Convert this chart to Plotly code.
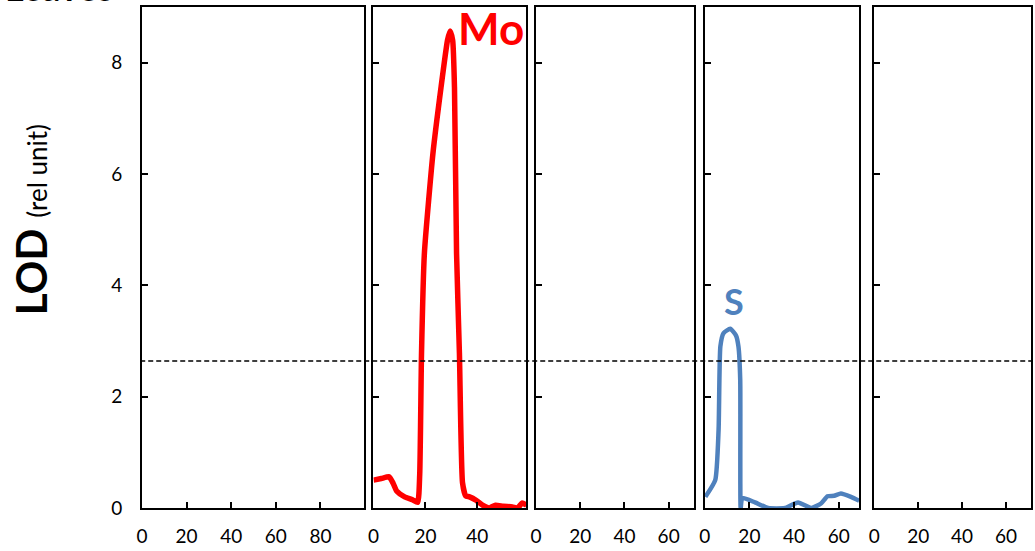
import plotly.graph_objects as go

# ---- data ----
x_ranges = [99.3, 58.8, 71.4, 69.3, 71.4]
x_tickvals = [[0, 20, 40, 60, 80], [0, 20, 40], [0, 20, 40, 60], [0, 20, 40, 60], [0, 20, 40, 60]]
y_tickvals = [0, 2, 4, 6, 8]
threshold = 2.64

mo_x = [0, 3, 6, 7.5, 9, 12, 15, 17, 17.8, 18.5, 19.6, 22.9, 26, 28.5, 29.5, 30.5,
        31.2, 32, 33.1, 34.3, 35.5, 37, 39.5, 42, 44.6, 47, 50, 53.5, 55.5, 57.3, 59]
mo_y = [0.50, 0.53, 0.56, 0.45, 0.30, 0.20, 0.15, 0.10, 0.6, 2.78, 4.57, 6.37, 7.55, 8.40, 8.57, 8.40,
        7.55, 4.57, 2.78, 0.45, 0.22, 0.20, 0.14, 0.05, 0.00, 0.05, 0.03, 0.02, 0.00, 0.09, 0.05]

s_x = [0.3, 4.7, 6.2, 7.0, 8.4, 11.4, 14.0, 15.1, 15.9, 16.1, 16.8, 22.5, 28.4, 35.9, 41.8,
       47.7, 52.1, 55.0, 58.0, 61.0, 65.5, 69.2]
s_y = [0.20, 0.50, 1.40, 2.90, 3.14, 3.22, 3.10, 2.90, 2.30, 0.00, 0.18, 0.10, 0.00, 0.00, 0.10,
       0.00, 0.08, 0.21, 0.22, 0.26, 0.20, 0.13]

labels = ["Mo", "S"]
label_pos = [(45.4, 8.62), (12.9, 3.72)]

# ---- layout constants ----
domains = [(0.0, 0.2492), (0.2604, 0.4321), (0.4433, 0.6207), (0.6330, 0.8070), (0.8238, 1.0)]
RED = "#FF0000"
BLUE = "#4F81BD"
FONT = "Lato, 'Open Sans', sans-serif"

fig = go.Figure()

# empty traces so every panel is drawn
for i in range(5):
    n = "" if i == 0 else str(i + 1)
    fig.add_trace(go.Scatter(x=[None], y=[None], mode="lines", xaxis="x" + n, yaxis="y" + n,
                             showlegend=False, hoverinfo="skip"))

fig.add_trace(go.Scatter(x=mo_x, y=mo_y, mode="lines", xaxis="x2", yaxis="y2",
                         line=dict(color=RED, width=5.5, shape="spline", smoothing=0.5),
                         showlegend=False, hoverinfo="skip"))
fig.add_trace(go.Scatter(x=s_x, y=s_y, mode="lines", xaxis="x4", yaxis="y4",
                         line=dict(color=BLUE, width=4.5, shape="spline", smoothing=0.5),
                         showlegend=False, hoverinfo="skip"))

layout = dict(
    width=1035, height=551,
    margin=dict(l=142, r=2, t=7, b=43),
    paper_bgcolor="white", plot_bgcolor="white",
    font=dict(family=FONT, size=19, color="black"),
    showlegend=False,
)

for i in range(5):
    n = "" if i == 0 else str(i + 1)
    layout["xaxis" + n] = dict(
        domain=list(domains[i]), range=[0, x_ranges[i]], anchor="y" + n,
        tickmode="array", tickvals=x_tickvals[i], ticktext=[str(v) for v in x_tickvals[i]],
        ticks="inside", ticklen=6, tickwidth=1.5, tickcolor="black",
        showline=True, linecolor="black", linewidth=2, mirror=True,
        showgrid=False, zeroline=False, ticklabelstandoff=10,
        tickfont=dict(family=FONT, size=19, color="black"),
    )
    layout["yaxis" + n] = dict(
        domain=[0, 1], range=[0, 9], anchor="x" + n,
        tickmode="array", tickvals=y_tickvals, ticktext=[str(v) for v in y_tickvals],
        ticks="inside", ticklen=6, tickwidth=1.5, tickcolor="black",
        showline=True, linecolor="black", linewidth=2, mirror=True,
        showgrid=False, zeroline=False, showticklabels=(i == 0), ticklabelstandoff=14,
        tickfont=dict(family=FONT, size=19, color="black"),
    )

fig.update_layout(**layout)

fig.add_shape(type="line", xref="paper", yref="y", x0=-0.002, x1=1.002, y0=threshold, y1=threshold,
              line=dict(color="black", width=1.5, dash="5px,3px"), layer="above")

fig.add_annotation(text="<b>" + labels[0] + "</b>", x=label_pos[0][0], y=label_pos[0][1],
                   xref="x2", yref="y2", showarrow=False, xanchor="center", yanchor="middle",
                   font=dict(family=FONT, size=44, color=RED))
fig.add_annotation(text="<b>" + labels[1] + "</b>", x=label_pos[1][0], y=label_pos[1][1],
                   xref="x4", yref="y4", showarrow=False, xanchor="center", yanchor="middle",
                   font=dict(family=FONT, size=36, color=BLUE))

fig.add_annotation(text="<b>LOD</b> <span style='font-size:26px'>(rel unit)</span>",
                   x=-0.1246, y=0.575, xref="paper", yref="paper", textangle=-90,
                   showarrow=False, xanchor="center", yanchor="middle",
                   font=dict(family=FONT, size=42, color="black"))

fig.add_annotation(text="<b>Leaves</b>", x=-0.03, y=0.9925, xref="paper", yref="paper",
                   showarrow=False, xanchor="right", yanchor="bottom",
                   font=dict(family=FONT, size=36, color="black"))

fig.write_html("out.html", config={"displayModeBar": False},
               post_script="document.body.style.margin='0';document.body.style.overflow='hidden';")
